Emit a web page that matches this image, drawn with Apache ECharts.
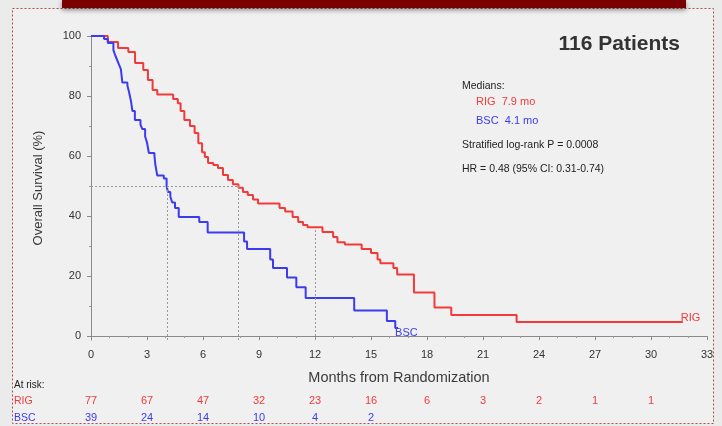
<!DOCTYPE html>
<html>
<head>
<meta charset="utf-8">
<script src="https://cdn.jsdelivr.net/npm/echarts@6/dist/echarts.min.js"></script>
<style>
html, body { margin: 0; padding: 0; background: #ebebeb; }
#chart { width: 722px; height: 426px; }
</style>
</head>
<body>
<div id="chart"></div>
<script>
// Kaplan-Meier steps (months, % surviving)
var rigTimes = [0, 0.9, 1.45, 2.0, 2.36, 2.8, 3.05, 3.3, 3.55, 4.4, 4.65, 4.8, 5.0, 5.3, 5.55, 5.75, 5.95, 6.1, 6.27, 6.55, 6.8, 7.07, 7.34, 7.6, 7.9, 8.14, 8.4, 8.68, 8.95, 10.1, 10.4, 10.8, 11.1, 11.36, 11.6, 12.4, 12.97, 13.2, 13.6, 14.5, 15.0, 15.35, 15.5, 16.2, 16.4, 17.3, 18.4, 19.3, 22.8, 31.7];
var rigSurv  = [100, 98, 96, 94.7, 91, 88.7, 85.3, 82, 80.5, 79, 77.6, 75, 72, 70, 67.7, 64.3, 61.3, 59.7, 57.7, 57, 56, 53.7, 52, 50.6, 49.4, 48, 47, 45.5, 44.2, 42.7, 41.5, 39.7, 38, 37, 36.3, 34.7, 33, 31.3, 30.5, 29, 27.7, 25.5, 24.3, 22.7, 20.5, 14.5, 9.5, 7, 4.7, 4.7];
var bscTimes = [0, 0.7, 0.9, 1.2, 1.3, 1.4, 1.5, 1.6, 1.68, 1.95, 2.05, 2.15, 2.22, 2.35, 2.65, 2.75, 2.9, 3.0, 3.1, 3.4, 3.45, 3.55, 3.9, 4.05, 4.12, 4.25, 4.35, 4.5, 4.7, 5.8, 6.25, 8.2, 8.36, 9.6, 9.75, 10.5, 11.0, 11.5, 14.1, 15.85, 16.3, 16.45];
var bscSurv  = [100, 99, 97.7, 95.3, 93.5, 92, 90.5, 89, 84.5, 83.5, 81, 78, 75, 72, 70.5, 69, 66.5, 64.5, 61, 60, 57, 53.5, 52.5, 50, 48, 46.5, 44.5, 42.7, 39.7, 38, 34.5, 31.5, 29, 25.5, 22.7, 19.5, 16.3, 12.7, 8.5, 5, 2.7, 2.7];

var rigMedian = 7.9;
var bscMedian = 4.1;
var rigAt12 = 36;

var yTicks = [0, 20, 40, 60, 80, 100];
var yMinorTicks = [10, 30, 50, 70, 90];
var riskTimes = [0, 3, 6, 9, 12, 15, 18, 21, 24, 27, 30];
var rigAtRisk = [77, 67, 47, 32, 23, 16, 6, 3, 2, 1, 1];
var bscAtRisk = [39, 24, 14, 10, 4, 2];

var RED = '#f23a3a';
var BLUE = '#3b3bf0';
var FONT = '"Liberation Sans", Arial, sans-serif';

function pairs(t, s) {
    return t.map(function (x, i) { return [x, s[i]]; });
}

var chart = echarts.init(document.getElementById('chart'));

var refLines = [
    [{ coord: [0, 50] }, { coord: [rigMedian, 50] }],
    [{ coord: [bscMedian, -1.3] }, { coord: [bscMedian, 50] }],
    [{ coord: [rigMedian, -1.3] }, { coord: [rigMedian, 50] }],
    [{ coord: [12, -1.3] }, { coord: [12, rigAt12] }]
];

chart.setOption({
    animation: false,
    backgroundColor: 'transparent',
    textStyle: { fontFamily: FONT },
    grid: { left: 91, right: 15, top: 36, bottom: 86 },
    xAxis: {
        type: 'value', min: 0, max: 33, interval: 3,
        name: 'Months from Randomization', nameLocation: 'middle', nameGap: 30,
        nameTextStyle: { fontSize: 14.5, color: '#3a3a3a', fontFamily: FONT },
        axisLine: { lineStyle: { color: '#8a8a8a' } },
        axisTick: { length: 4, lineStyle: { color: '#8a8a8a' } },
        minorTick: { show: true, splitNumber: 3, length: 2, lineStyle: { color: '#9a9a9a' } },
        axisLabel: { fontSize: 11, color: '#333', margin: 9 },
        splitLine: { show: false }
    },
    yAxis: [{
        type: 'value', min: -1.3, max: 100,
        name: 'Overall Survival (%)', nameLocation: 'middle', nameGap: 46, nameRotate: 90,
        nameTextStyle: { fontSize: 13, color: '#3a3a3a', fontFamily: FONT },
        axisLine: { show: true, lineStyle: { color: '#8a8a8a' } },
        axisTick: { show: true, length: 4, customValues: yTicks, lineStyle: { color: '#8a8a8a' } },
        axisLabel: { fontSize: 11, color: '#333', customValues: yTicks, margin: 10 },
        splitLine: { show: false }
    }, {
        type: 'value', min: -1.3, max: 100, position: 'left',
        axisLine: { show: false },
        axisTick: { show: true, length: 2, customValues: yMinorTicks, lineStyle: { color: '#9a9a9a' } },
        axisLabel: { show: false, customValues: yMinorTicks },
        splitLine: { show: false }
    }],
    series: [{
        name: 'RIG', type: 'line', step: 'end', showSymbol: false,
        data: pairs(rigTimes, rigSurv),
        lineStyle: { color: RED, width: 2 },
        itemStyle: { color: RED },
        endLabel: { show: true, formatter: 'RIG', color: RED, fontSize: 11, distance: 0, offset: [-2, -4] },
        z: 3
    }, {
        name: 'BSC', type: 'line', step: 'end', showSymbol: false,
        data: pairs(bscTimes, bscSurv),
        lineStyle: { color: BLUE, width: 2 },
        itemStyle: { color: BLUE },
        endLabel: { show: true, formatter: 'BSC', color: BLUE, fontSize: 11, distance: 0, offset: [-3, 5] },
        z: 3
    }, {
        name: 'ref', type: 'line', data: [], silent: true,
        markLine: {
            symbol: 'none', silent: true, label: { show: false },
            lineStyle: { color: '#999', type: [2, 2], width: 1 },
            data: refLines
        }
    }]
});

// frame, banner and text annotations
var gfx = [
    { type: 'rect', shape: { x: 12.5, y: 8.5, width: 701, height: 415 }, style: { fill: '#f0f0f0', stroke: '#b04848', lineWidth: 1, lineDash: [2, 2] }, z: -10 },
    { type: 'rect', shape: { x: 62, y: 0, width: 624, height: 8 }, style: { fill: '#7b0000', shadowBlur: 5, shadowColor: 'rgba(0,0,0,0.45)', shadowOffsetY: 2 }, z: -5 },
    { type: 'text', x: 680, y: 44, style: { text: '116 Patients', font: 'bold 21px ' + FONT, fill: '#333', align: 'right', verticalAlign: 'middle' } },
    { type: 'text', x: 462, y: 86, style: { text: 'Medians:', font: '10.5px ' + FONT, fill: '#222', verticalAlign: 'middle' } },
    { type: 'text', x: 476, y: 102, style: { text: 'RIG  7.9 mo', font: '11px ' + FONT, fill: RED, verticalAlign: 'middle' } },
    { type: 'text', x: 476, y: 121, style: { text: 'BSC  4.1 mo', font: '11px ' + FONT, fill: BLUE, verticalAlign: 'middle' } },
    { type: 'text', x: 462, y: 145, style: { text: 'Stratified log-rank P = 0.0008', font: '10.5px ' + FONT, fill: '#222', verticalAlign: 'middle' } },
    { type: 'text', x: 462, y: 169, style: { text: 'HR = 0.48 (95% CI: 0.31-0.74)', font: '10.5px ' + FONT, fill: '#222', verticalAlign: 'middle' } },
    { type: 'text', x: 14, y: 385, style: { text: 'At risk:', font: '10px ' + FONT, fill: '#222', verticalAlign: 'middle' } },
    { type: 'text', x: 14, y: 401, style: { text: 'RIG', font: '10.5px ' + FONT, fill: RED, verticalAlign: 'middle' } },
    { type: 'text', x: 14, y: 418, style: { text: 'BSC', font: '10.5px ' + FONT, fill: BLUE, verticalAlign: 'middle' } }
];
rigAtRisk.forEach(function (n, i) {
    var px = chart.convertToPixel({ xAxisIndex: 0 }, riskTimes[i]);
    gfx.push({ type: 'text', x: px, y: 401, style: { text: String(n), font: '11px ' + FONT, fill: RED, align: 'center', verticalAlign: 'middle' } });
});
bscAtRisk.forEach(function (n, i) {
    var px = chart.convertToPixel({ xAxisIndex: 0 }, riskTimes[i]);
    gfx.push({ type: 'text', x: px, y: 418, style: { text: String(n), font: '11px ' + FONT, fill: BLUE, align: 'center', verticalAlign: 'middle' } });
});
chart.setOption({ graphic: gfx });
</script>
</body>
</html>
